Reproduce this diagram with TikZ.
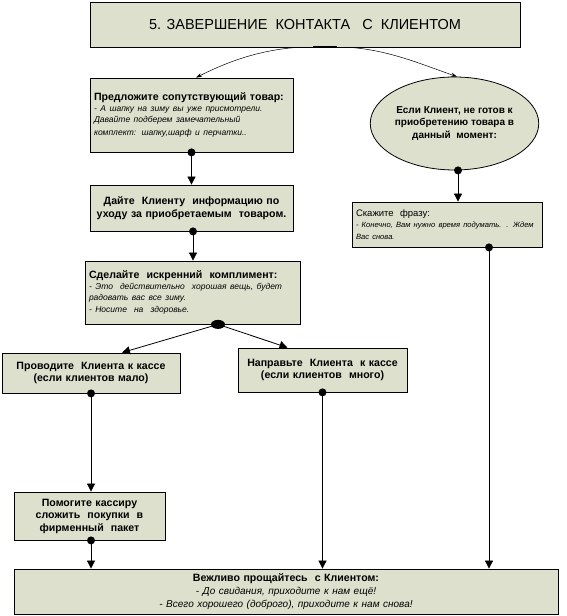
\documentclass[tikz,border=0pt]{standalone}
\usepackage{fontspec}
\setmainfont{Liberation Sans}
\usepackage{tikz}
\usetikzlibrary{arrows.meta,positioning,calc,shapes.geometric}

\definecolor{boxfill}{RGB}{221,224,204}
\newcommand{\hd}{\fontsize{10.6}{12.5}\selectfont\bfseries}
\newcommand{\rem}{\fontsize{8.5}{11}\selectfont\mdseries\itshape}

\begin{document}
\begin{tikzpicture}[x=1pt,y=1pt,
    box/.style={draw, fill=boxfill, line width=0.8pt, inner sep=4pt, font=\hd},
    dot/.style={circle, fill, inner sep=0pt, minimum size=8pt},
    conn/.style={draw, line width=0.8pt, -{Triangle[width=8pt,length=8pt]}},
    bent/.style={draw, line width=0.5pt, -{Stealth[length=6pt,width=4pt]}}]
  \useasboundingbox (0,0) rectangle (567,616);

  \node[box, minimum width=430pt, minimum height=45pt, font=\fontsize{14.5}{16}\selectfont] (title) at (305,591.5)
    {5. ЗАВЕРШЕНИЕ~~КОНТАКТА~~~С~~КЛИЕНТОМ};

  \node[box, text width=195pt, minimum height=74pt, align=left] (offer) at (191.5,501)
    {Предложите сопутствующий товар:\\
     {\rem - А шапку на зиму вы уже присмотрели.\\
     Давайте подберем замечательный\\
     комплект: шапку,шарф и перчатки..}};
  \node[box, ellipse, minimum width=161pt, minimum height=93pt, inner sep=0pt, align=center, font=\fontsize{10}{12.5}\selectfont\bfseries] (ready) at (454.5,492.5)
    {Если Клиент, не готов к\\ приобретению товара в\\ данный~ момент:};

  \node[box, text width=195pt, minimum height=46pt, align=center] (care) at (191.5,408)
    {Дайте~ Клиенту~ информацию по\\ уходу за приобретаемым~ товаром.};
  \node[box, text width=182pt, minimum height=45pt, align=left, font=\fontsize{9.5}{11.5}\selectfont] (say) at (447,391.5)
    {Скажите~ фразу:\\
     {\fontsize{7.6}{11}\selectfont\itshape - Конечно, Вам нужно время подумать. . Ждем\\ Вас снова.}};

  \node[box, text width=207pt, minimum height=63pt, align=left] (compl) at (192.5,323.5)
    {Сделайте~ искренний~ комплимент:\\
     {\rem - Это~ действительно~ хорошая вещь, будет\\
     радовать вас все зиму.\\
     - Носите~ на~ здоровье.}};

  \node[box, text width=170pt, minimum height=40pt, align=center] (lead) at (91,243)
    {Проводите~ Клиента к кассе\\ (если клиентов мало)};
  \node[box, text width=161pt, minimum height=44pt, align=center] (send) at (322.5,246)
    {Направьте~ Клиента~ к кассе\\ (если клиентов~ много)};

  \node[box, text width=143pt, minimum height=48pt, align=center] (pack) at (89.5,100)
    {Помогите кассиру\\ сложить~ покупки~ в\\ фирменный~ пакет};

  \node[box, text width=536pt, minimum height=45pt, align=center] (bye) at (286,24.5)
    {Вежливо прощайтесь~ с Клиентом:\\
     {\fontsize{10}{13}\selectfont\mdseries\itshape - До свидания, приходите к нам ещё!\\
     - Всего хорошего (доброго), приходите к нам снова!}};

  % start points
  \node[rectangle, fill, minimum width=24pt, minimum height=2pt, inner sep=0pt] (d0) at ([xshift=20pt]title.south) {};
  \node[dot] (d1) at (offer.south) {};
  \node[dot] (d2) at ([xshift=1.5pt]care.south) {};
  \node[dot, ellipse, minimum width=14pt, minimum height=9pt] (d3) at ([xshift=25.5pt]compl.south) {};
  \node[dot] (d4) at (lead.south) {};
  \node[dot] (d5) at (send.south) {};
  \node[dot] (d6) at ([xshift=1.5pt]pack.south) {};
  \node[dot] (d7) at ([xshift=3.5pt]ready.south) {};
  \node[dot] (d8) at ([xshift=42pt]say.south) {};

  \draw[bent] ([xshift=-8pt]title.south) .. controls +(-40,-3) and +(30,15) .. ([xshift=4.5pt]offer.north);
  \draw[bent] ([xshift=45pt]title.south) .. controls +(40,-3) and +(-35,12) .. ([xshift=2.5pt]ready.north);

  \draw[conn] (d1.center) -- (offer.south |- care.north);
  \draw[conn] (d2.center) -- (d2 |- compl.north);
  \draw[conn] (d3.center) -- ([xshift=31pt]lead.north);
  \draw[conn] (d3.center) -- ([xshift=-35pt]send.north);
  \draw[conn] (d4.center) -- (d4 |- pack.north);
  \draw[conn] (d6.center) -- (d6 |- bye.north);
  \draw[conn] (d5.center) -- (d5 |- bye.north);
  \draw[conn] (d7.center) -- (d7 |- say.north);
  \draw[conn] (d8.center) -- (d8 |- bye.north);
\end{tikzpicture}
\end{document}
